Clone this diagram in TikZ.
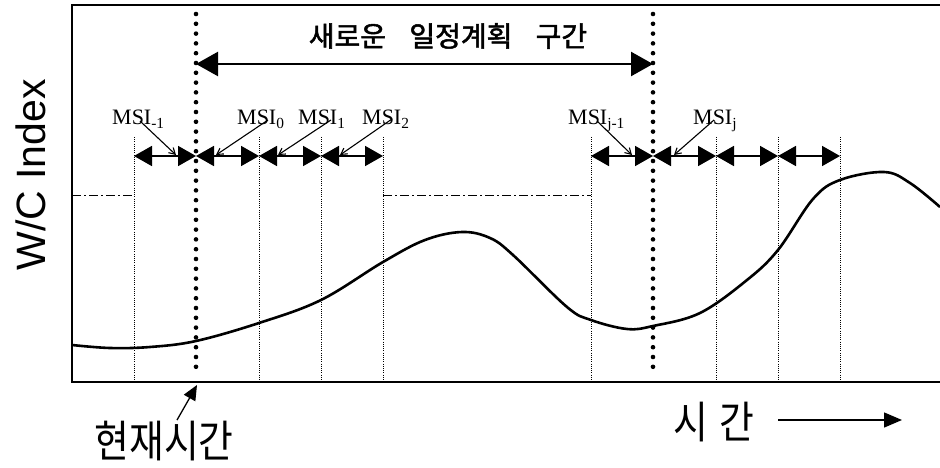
\documentclass[tikz,border=0pt]{standalone}
\usepackage{fontspec}
\setmainfont{Liberation Serif}
\newfontfamily\krfont{Noto Sans CJK KR}
\newfontfamily\krbold{Noto Sans CJK KR}[FakeBold=1.8]
\newfontfamily\arialfont{Liberation Sans}
\usetikzlibrary{arrows.meta}
\begin{document}
\begin{tikzpicture}[x=1pt,y=-1pt,
  frame/.style={line width=2.6pt},
  bigdot/.style={line width=4.6pt, dash pattern=on 0pt off 9.8pt, line cap=round},
  thindot/.style={line width=0.9pt, dash pattern=on 0.9pt off 1.3pt},
  dashdot/.style={line width=1pt, dash pattern=on 9pt off 3pt on 2pt off 3pt},
  msiarrow/.style={line width=1.8pt, {Triangle[length=18pt,width=20pt]}-{Triangle[length=18pt,width=20pt]}},
  pointer/.style={line width=1.1pt, -{Straight Barb[length=6pt,width=7pt]}},
  msilabel/.style={font=\fontsize{22}{22}\selectfont, inner sep=0pt, anchor=base west},
  curve/.style={line width=2.6pt, line join=round}
]
\useasboundingbox (0,0) rectangle (940,468);

% frame
\coordinate (tl) at (72,5);
\coordinate (tr) at (940,5);
\coordinate (bl) at (72,382);
\coordinate (br) at (940,382);
\draw[frame] (tr) -- (tl) -- (bl) -- (br);

% thin dotted verticals
\foreach \n/\x in {a/134,b/259,c/321,d/383,e/591,f/716,g/778,h/840}{
  \coordinate (t\n) at (\x,137);
  \coordinate (u\n) at (\x,382);
  \draw[thindot] (t\n) -- (u\n);
}
% thick dotted verticals
\coordinate (p1t) at (196,14);
\coordinate (p1b) at (196,374);
\coordinate (p2t) at (653,14);
\coordinate (p2b) at (653,374);
\draw[bigdot] (p1t) -- (p1b);
\draw[bigdot] (p2t) -- (p2b);

% dash-dot level lines
\coordinate (l1a) at (72,195);
\coordinate (l1b) at (134,195);
\coordinate (l2a) at (383,195);
\coordinate (l2b) at (591,195);
\draw[dashdot] (l1a) -- (l1b);
\draw[dashdot] (l2a) -- (l2b);

% new schedule interval arrow
\coordinate (s1) at (196,64);
\coordinate (s2) at (653,64);
\draw[line width=2.4pt, {Triangle[length=22pt,width=24pt]}-{Triangle[length=22pt,width=24pt]}] (s1) -- (s2);
\node[font=\krbold\fontsize{28}{28}\selectfont, inner sep=0pt] (title) at (448,36) {새로운 \hspace{17pt}일정계획 \hspace{17pt}구간};

% MSI double arrows
\foreach \a/\b/\n in {134/196/1,196/259/2,259/321/3,321/383/4,591/653/5,653/716/6,716/778/7,778/840/8}{
  \coordinate (m\n a) at (\a,156);
  \coordinate (m\n b) at (\b,156);
  \draw[msiarrow] (m\n a) -- (m\n b);
}

% MSI labels
\node[msilabel] (msim1) at (112,125) {MSI\textsubscript{-1}};
\node[msilabel] (msi0) at (237,125) {MSI\textsubscript{0}};
\node[msilabel] (msi1) at (298,125) {MSI\textsubscript{1}};
\node[msilabel] (msi2) at (362,125) {MSI\textsubscript{2}};
\node[msilabel] (msijm1) at (568,125) {MSI\textsubscript{j-1}};
\node[msilabel] (msij) at (693,125) {MSI\textsubscript{j}};

% pointers
\coordinate (q1a) at (140,121); \coordinate (q1b) at (176,155);
\coordinate (q2a) at (268,120); \coordinate (q2b) at (216,155);
\coordinate (q3a) at (331,120); \coordinate (q3b) at (278,155);
\coordinate (q4a) at (392,119); \coordinate (q4b) at (340,155);
\coordinate (q5a) at (597,121); \coordinate (q5b) at (632,155);
\coordinate (q6a) at (714,120); \coordinate (q6b) at (674,155);
\foreach \n in {1,...,6}{ \draw[pointer] (q\n a) -- (q\n b); }

% W/C index curve
\draw[curve] plot[smooth, tension=0.6] coordinates {
  (72,345) (110,348) (150,347) (196,341) (259,323) (321,300) (383,262)
  (425,240) (462,232) (490,238) (513,255) (567,307) (591,320) (627,329)
  (653,326) (700,313) (747,280) (778,250) (813,199) (840,180) (884,172)
  (910,183) (940,207)};

% axis label
\node[font=\arialfont\fontsize{41}{41}\selectfont, rotate=90, inner sep=0pt] (ylab) at (31,175) {W/C Index};

% current time
\node[font=\krfont\fontsize{44}{44}\selectfont, xscale=0.86, inner sep=0pt] (now) at (164,441) {현재시간};
\coordinate (nowa) at (177,420);
\coordinate (nowb) at (197,385);
\draw[line width=1.3pt, -{Triangle[length=15pt,width=13pt]}] (nowa) -- (nowb);

% time axis
\node[font=\krfont\fontsize{44}{44}\selectfont, xscale=0.86, inner sep=0pt] (time) at (714,422) {시 \hspace{4pt}간};
\coordinate (ta) at (778,420);
\coordinate (tb) at (902,420);
\draw[line width=1.3pt, -{Triangle[length=18pt,width=15pt]}] (ta) -- (tb);
\end{tikzpicture}
\end{document}
